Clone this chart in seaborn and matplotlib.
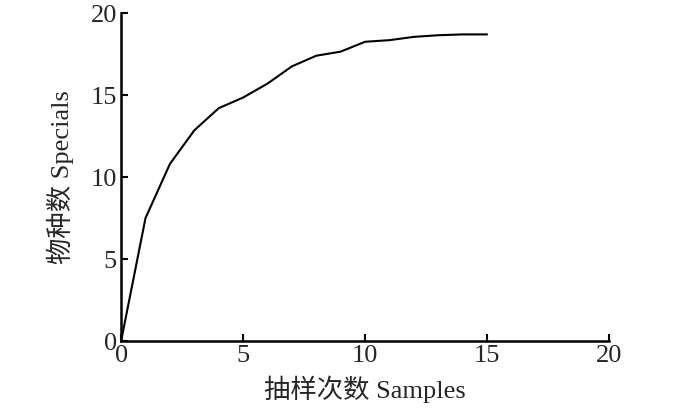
import matplotlib
matplotlib.use("Agg")
import matplotlib.pyplot as plt
import seaborn as sns
import pandas as pd

samples = [0, 1, 2, 3, 4, 5, 6, 7, 8, 9, 10, 11, 12, 13, 14, 15]
species = [0, 7.5, 10.8, 12.85, 14.2, 14.85, 15.7, 16.75, 17.4, 17.65, 18.25, 18.35, 18.55, 18.65, 18.7, 18.7]
ticks = [0, 5, 10, 15, 20]

sns.set_theme(style="ticks")
plt.rcParams['font.family'] = ['Liberation Serif', 'Noto Sans CJK SC', 'DejaVu Sans']

df = pd.DataFrame({"x": samples, "y": species})
fig = plt.figure(figsize=(7, 4.09), dpi=100)
ax = fig.add_axes([0.173, 0.166, 0.697, 0.802])
sns.lineplot(data=df, x="x", y="y", ax=ax, color="black", linewidth=1.5)
ax.set_xlim(0, 20)
ax.set_ylim(0, 20)
ax.set_xticks(ticks)
ax.set_yticks(ticks)
ax.set_xticklabels([str(t) for t in ticks], fontsize=19)
ax.set_yticklabels([str(t) for t in ticks], fontsize=19)
ax.tick_params(direction="in", length=5, width=1.5, color="black", pad=3)
for s in ["top", "right"]:
    ax.spines[s].set_visible(False)
for s in ["left", "bottom"]:
    ax.spines[s].set_linewidth(1.8)
    ax.spines[s].set_color("black")
ax.set_xlabel("抽样次数 Samples", fontsize=19, labelpad=6)
ax.set_ylabel("物种数 Specials", fontsize=19, labelpad=12)
fig.savefig("out.png", dpi=100)
